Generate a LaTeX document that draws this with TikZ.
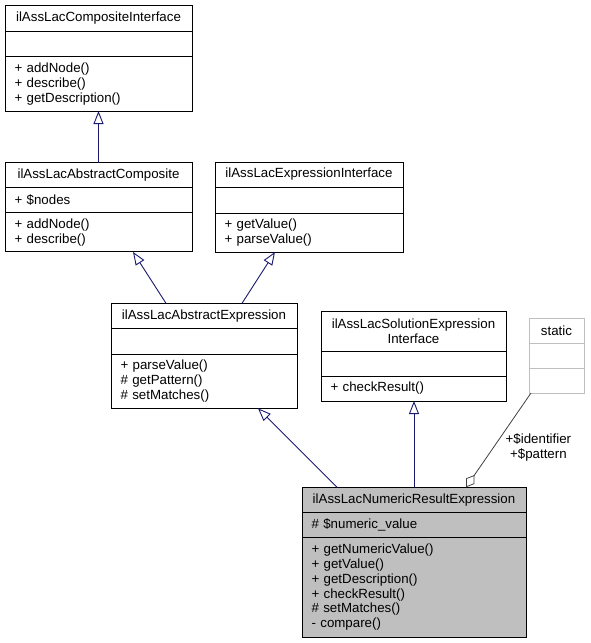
\documentclass[tikz,border=0pt]{standalone}
\usepackage{fontspec}
\setmainfont{Liberation Sans}
\usepackage{tikz}
\usetikzlibrary{positioning, arrows.meta, calc}

\definecolor{navy}{HTML}{191970}
\tikzset{
    cls/.style={draw, line width=1pt, outer sep=0pt, inner ysep=0pt,
        font=\fontsize{13.3}{14.8}\selectfont},
    head/.style={cls, align=center, minimum height=25pt, minimum width=#1},
    memb/.style={cls, align=left, minimum height=25pt, inner xsep=9.5pt, text width=#1},
    faint/.style={draw=black!25},
    inh/.style={draw=navy, line width=.9pt, -{Triangle[open, length=13pt, width=10pt]}},
    agg/.style={draw=black!75, line width=.8pt, -{Diamond[open, length=15pt, width=10pt]}},
}

\begin{document}
\begin{tikzpicture}[x=1pt, y=-1pt, node distance=0pt]
        \useasboundingbox (0,0) rectangle (590,643);

        \node[head=187pt, minimum height=26.4pt] (ci) at (98.5, 18.5) {ilAssLacCompositeInterface}; % ci
        \node[memb=168pt, below=of ci] (ci-a) {};
        \node[memb=168pt, minimum height=54.3pt, below=of ci-a] (ci-m) {+ addNode()\\+ describe()\\+ getDescription()};

        \node[head=187pt] (ac) at (98.5, 175) {ilAssLacAbstractComposite}; % ac
        \node[memb=168pt, below=of ac] (ac-a) {+ \$nodes};
        \node[memb=168pt, minimum height=39.4pt, below=of ac-a] (ac-m) {+ addNode()\\+ describe()};

        \node[head=188pt] (ei) at (309, 174.5) {ilAssLacExpressionInterface}; % ei
        \node[memb=169pt, minimum height=26pt, below=of ei] (ei-a) {};
        \node[memb=169pt, minimum height=39pt, below=of ei-a] (ei-m) {+ getValue()\\+ parseValue()};

        \node[head=186pt] (ae) at (204, 315.8) {ilAssLacAbstractExpression}; % ae
        \node[memb=167pt, minimum height=25.7pt, below=of ae] (ae-a) {};
        \node[memb=167pt, minimum height=54.3pt, below=of ae-a] (ae-m) {+ parseValue()\\\# getPattern()\\\# setMatches()};

        \node[head=185pt, minimum height=40pt] (se) at (413.5, 331) {ilAssLacSolutionExpression\\Interface}; % se
        \node[memb=166pt, below=of se] (se-a) {};
        \node[memb=166pt, below=of se-a] (se-m) {+ checkResult()};

        \node[head=55pt, faint] (st) at (556.5, 330.5) {static}; % st
        \node[memb=36pt, faint, below=of st] (st-a) {};
        \node[memb=36pt, faint, below=of st-a] (st-m) {};

        \node[head=224pt, fill=black!25] (nr) at (414, 499.8) {ilAssLacNumericResultExpression}; % nr
        \node[memb=205pt, fill=black!25, below=of nr] (nr-a) {\# \$numeric\_value};
        \node[memb=205pt, fill=black!25, minimum height=100pt, below=of nr-a] (nr-m) {+ getNumericValue()\\+ getValue()\\+ getDescription()\\+ checkResult()\\\# setMatches()\\- compare()};

        \draw[inh] (ac.north) -- (ci-m.south);
        \draw[inh] ([xshift=-38pt]ae.north) -- ([xshift=34.5pt]ac-m.south);
        \draw[inh] ([xshift=38pt]ae.north) -- ([xshift=-34pt]ei-m.south);
        \draw[inh] ([xshift=-77pt]nr.north) -- ([xshift=54pt]ae-m.south);
        \draw[inh] (nr.north) -- (nr.north |- se-m.south);
        \draw[agg] ([xshift=-25.5pt]st-m.south) -- node[pos=.58, anchor=west, inner sep=0pt, xshift=12pt, align=center,
            font=\fontsize{13.3}{14.8}\selectfont] (lbl) {+\$identifier\\+\$pattern} ([xshift=52pt]nr.north);
    \end{tikzpicture}
\end{document}
